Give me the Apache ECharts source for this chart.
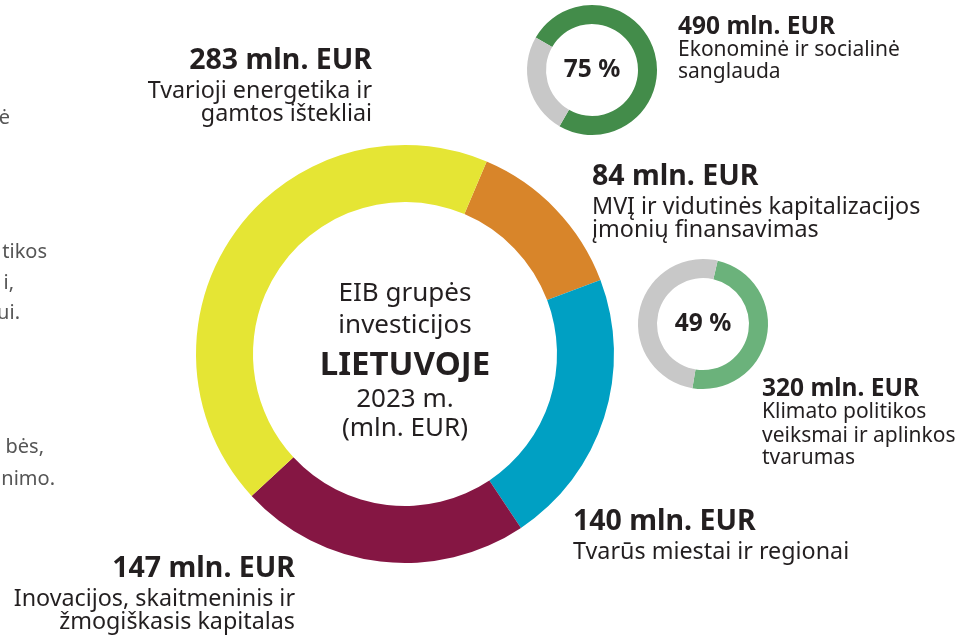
<!DOCTYPE html>
<html>
<head>
<meta charset="utf-8">
<script src="https://cdn.jsdelivr.net/npm/echarts@6/dist/echarts.min.js"></script>
<style>
  html, body { margin: 0; padding: 0; background: #fff; }
  #chart { width: 973px; height: 640px; }
</style>
</head>
<body>
<div id="chart"></div>
<script>
// main donut: EIB group investment in Lithuania 2023, mln. EUR (clockwise from orange)
const mainAmounts = [84, 140, 147, 283];
const mainNames = [
  ['MVĮ ir vidutinės kapitalizacijos', 'įmonių finansavimas'],
  ['Tvarūs miestai ir regionai'],
  ['Inovacijos, skaitmeninis ir', 'žmogiškasis kapitalas'],
  ['Tvarioji energetika ir', 'gamtos ištekliai']
];
const mainColors = ['#d8852a', '#00a0c3', '#851643', '#e5e534'];

// small donuts: share (%) and amount
const sharePercents = [75, 49];
const shareAmounts = [490, 320];
const shareNames = [
  ['Ekonominė ir socialinė', 'sanglauda'],
  ['Klimato politikos', 'veiksmai ir aplinkos', 'tvarumas']
];
const shareColors = ['#438c4a', '#6bb27b'];

const centerLines = ['EIB grupės', 'investicijos', 'LIETUVOJE', '2023 m.', '(mln. EUR)'];
const leftFragments = ['ė', 'tikos', 'i,', 'ui.', 'bės,', 'nimo.'];

const FONT = '"Noto Sans", sans-serif';
const INK = '#231f20';

const chart = echarts.init(document.getElementById('chart'), null, { renderer: 'canvas' });

// place text by its baseline (zrender only aligns to the box top)
function txt(x, baseline, text, size, weight, align, fill) {
  return {
    type: 'text', x: x, y: baseline - 0.72 * size,
    style: {
      text: text, font: (weight || 'normal') + ' ' + size + 'px ' + FONT,
      fill: fill || INK, align: align, verticalAlign: 'top'
    }
  };
}

function labelBlock(x, baselines, amount, lines, align, bigSize, smallSize) {
  const out = [txt(x, baselines[0], amount + ' mln. EUR', bigSize, 'bold', align)];
  lines.forEach((t, i) => out.push(txt(x, baselines[i + 1], t, smallSize, 'normal', align)));
  return out;
}

const graphics = [];
// main labels (orange, blue, maroon, yellow)
graphics.push(...labelBlock(592, [183, 213, 236], mainAmounts[0], mainNames[0], 'left', 28.5, 23.3));
graphics.push(...labelBlock(573, [528, 558], mainAmounts[1], mainNames[1], 'left', 28.5, 23.3));
graphics.push(...labelBlock(295, [575, 605, 628], mainAmounts[2], mainNames[2], 'right', 28.5, 23.3));
graphics.push(...labelBlock(372, [67, 97, 120], mainAmounts[3], mainNames[3], 'right', 28.5, 23.3));
// small donut labels
graphics.push(...labelBlock(678, [32, 55, 77], shareAmounts[0], shareNames[0], 'left', 24.5, 21));
graphics.push(...labelBlock(762, [394, 417, 441, 463], shareAmounts[1], shareNames[1], 'left', 24.5, 21));

// centre text
const centerY = [299, 331, 373, 405, 434];
centerLines.forEach((t, i) => {
  graphics.push(i === 2
    ? txt(405, centerY[i], t, 33, 'bold', 'center')
    : txt(405, centerY[i], t, 26, 'normal', 'center'));
});

// cut-off text from the neighbouring column
const fragY = [123, 257, 288, 318, 452, 484];
const fragX = [10, 47, 14, 20, 44, 55];
leftFragments.forEach((t, i) => {
  graphics.push(txt(fragX[i], fragY[i], t, 20, 'normal', 'right', '#555'));
});

function shareSeries(i, center, startAngle) {
  return {
    type: 'pie',
    center: center,
    radius: [46, 65],
    startAngle: startAngle,
    clockwise: true,
    silent: true,
    label: {
      show: true, position: 'center',
      formatter: () => sharePercents[i] + ' %',
      fontFamily: FONT, fontWeight: 'bold', fontSize: 24.5, color: INK
    },
    labelLine: { show: false },
    data: [
      { value: sharePercents[i], itemStyle: { color: shareColors[i] } },
      { value: 100 - sharePercents[i], itemStyle: { color: '#c8c8c8' }, label: { show: false } }
    ]
  };
}

chart.setOption({
  animation: false,
  graphic: graphics,
  series: [
    {
      type: 'pie',
      center: [405, 354],
      radius: [152, 209],
      startAngle: 67,
      clockwise: true,
      silent: true,
      label: { show: false },
      labelLine: { show: false },
      data: mainAmounts.map((v, i) => ({
        value: v, name: mainNames[i].join(' '), itemStyle: { color: mainColors[i] }
      }))
    },
    shareSeries(0, [592, 70], 150),
    shareSeries(1, [703, 324], 77)
  ]
});

window.addEventListener('resize', () => chart.resize());
</script>
</body>
</html>
